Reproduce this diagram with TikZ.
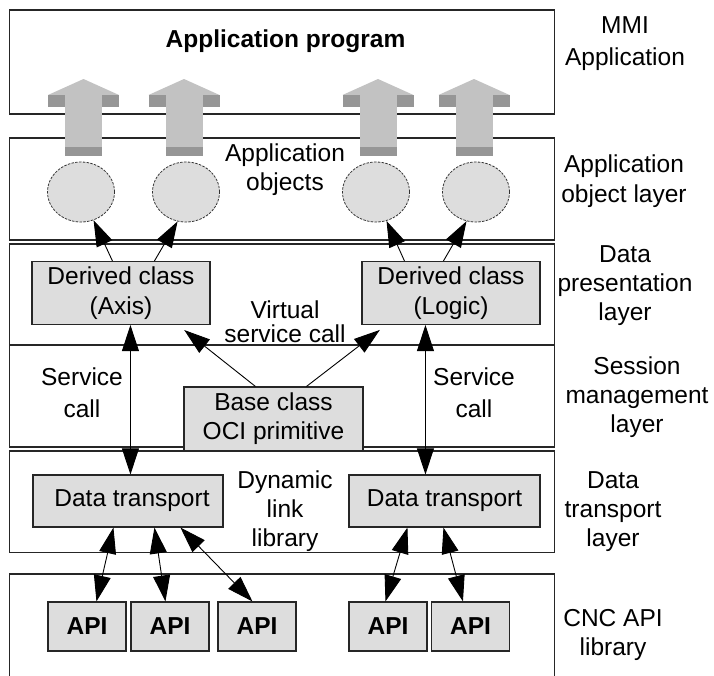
\documentclass[tikz,border=0pt]{standalone}
\usepackage{fontspec}
\setmainfont{Liberation Sans}
\usetikzlibrary{arrows.meta,shapes.geometric}
\definecolor{boxgray}{RGB}{221,221,221}
\definecolor{arrlight}{RGB}{194,194,194}
\definecolor{arrdark}{RGB}{150,150,150}
\newcommand\dfont{\fontsize{24.5}{29}\selectfont}
\tikzset{
  layer/.style={draw=black!85, line width=1.1pt, fill=white},
  gbox/.style={draw=black!85, line width=1.1pt, fill=boxgray, inner sep=0pt, font=\dfont, align=center},
  obj/.style={ellipse, draw=black!80, dash pattern=on 2.5pt off 1.3pt, line width=0.8pt, fill=boxgray, minimum width=67pt, minimum height=60pt, inner sep=0pt},
  lbl/.style={font=\dfont, align=center, inner sep=0pt},
  conn/.style={line width=0.9pt, -{Triangle[length=26pt,width=17pt]}},
  conn2/.style={line width=0.9pt, {Triangle[length=26pt,width=17pt]}-{Triangle[length=26pt,width=17pt]}},
  bigarr/.pic={
    \fill[arrlight] (0,79) -- (35.5,95) -- (-35.5,95) -- cycle;
    \fill[arrdark] (-35.5,95) rectangle (-18.5,107);
    \fill[arrdark] (18.5,95) rectangle (35.5,107);
    \fill[arrlight] (-18.5,94.5) rectangle (18.5,147);
    \fill[arrdark] (-18.5,147) rectangle (18.5,156);
  }
}
\begin{document}
\begin{tikzpicture}[x=1pt,y=-1pt]
\clip (0,0) rectangle (714,675);
\fill[white] (0,0) rectangle (714,675);
% layers
\draw[layer] (9.5,10) rectangle (554.5,114);
\draw[layer] (9.5,138) rectangle (554.5,240);
\draw[layer] (9.5,244) rectangle (554.5,345);
\draw[layer] (9.5,345) rectangle (554.5,447);
\draw[layer] (9.5,451) rectangle (554.5,552.5);
\draw[layer] (9.5,574) rectangle (554.5,700);
\draw[line width=2.6pt, draw=black!85] (9.5,345) -- (554.5,345);
% big arrows
\pic at (83.5,0) {bigarr};
\pic at (184,0) {bigarr};
\pic at (378,0) {bigarr};
\pic at (474,0) {bigarr};
% texts in layers
\node[lbl, font=\dfont\bfseries, anchor=base] (title) at (285.5,47) {Application program};
\node[lbl] (tobj) at (285,170) {Application\\objects};
\node[lbl] (tvirt) at (285,321.5) {Virtual\\[-5pt]service call};
\node[lbl] (tscA) at (82,393) {Service\\[3pt]call};
\node[lbl] (tscB) at (474,393) {Service\\[3pt]call};
\node[lbl] (tdll) at (285,511.5) {Dynamic\\link\\library};
% right labels
\node[lbl] (rmmi) at (625,43.5) {MMI\\[3pt]Application};
\node[lbl] (raol) at (624,181.5) {Application\\[1pt]object layer};
\node[lbl] (rdpl) at (625,285.5) {Data\\presentation\\layer};
\node[lbl] (rsml) at (637,397.5) {Session\\management\\layer};
\node[lbl] (rdtl) at (613,511.5) {Data\\transport\\layer};
\node[lbl] (rcnc) at (613,635) {CNC API\\library};
% objects
\node[obj] (e1) at (81,192) {};
\node[obj] (e2) at (186,192) {};
\node[obj] (e3) at (376,192) {};
\node[obj] (e4) at (476,192) {};
% boxes
\node[gbox, minimum width=178pt, minimum height=63pt] (dcA) at (121,293) {Derived class\\[1pt](Axis)};
\node[gbox, minimum width=178pt, minimum height=63pt] (dcB) at (451,293) {Derived class\\[1pt](Logic)};
\node[gbox, minimum width=179pt, minimum height=63.5pt] (base) at (273.5,418.75) {Base class\\OCI primitive};
\node[gbox, minimum width=190pt, minimum height=52pt] (dtA) at (128,501) {\hspace*{8pt}Data transport};
\node[gbox, minimum width=191pt, minimum height=52pt] (dtB) at (444.5,501) {Data transport};
\foreach \n/\x in {1/87,2/170,3/257,4/388,5/470.5}
  \node[gbox, font=\dfont\bfseries, minimum width=78pt, minimum height=49pt] (api\n) at (\x,626.5) {API};
% connectors to objects
\draw[conn] ([xshift=81pt]dcA.north west) -- (e1.-66);
\draw[conn] ([xshift=123pt]dcA.north west) -- (e2.-106);
\draw[conn] ([xshift=43pt]dcB.north west) -- (e3.-70);
\draw[conn] ([xshift=82pt]dcB.north west) -- (e4.-108);
% virtual service calls
\draw[conn, shorten >=8pt] ([xshift=72pt]base.north west) -- ([xshift=-32.6pt]dcA.south east);
\draw[conn, shorten >=8pt] ([xshift=123pt]base.north west) -- ([xshift=24.7pt]dcB.south west);
% service calls
\draw[conn2] ([xshift=99pt]dcA.south west) -- ([xshift=98pt]dtA.north west);
\draw[conn2] ([xshift=64pt]dcB.south west) -- ([xshift=77pt]dtB.north west);
% api links
\draw[conn2] ([xshift=81pt]dtA.south west) -- ([xshift=49pt]api1.north west);
\draw[conn2] ([xshift=122pt]dtA.south west) -- ([xshift=35pt]api2.north west);
\draw[conn2] ([xshift=148pt]dtA.south west) -- ([xshift=35pt]api3.north west);
\draw[conn2] ([xshift=59pt]dtB.south west) -- ([xshift=37pt]api4.north west);
\draw[conn2] ([xshift=95pt]dtB.south west) -- ([xshift=32pt]api5.north west);
\end{tikzpicture}
\end{document}
